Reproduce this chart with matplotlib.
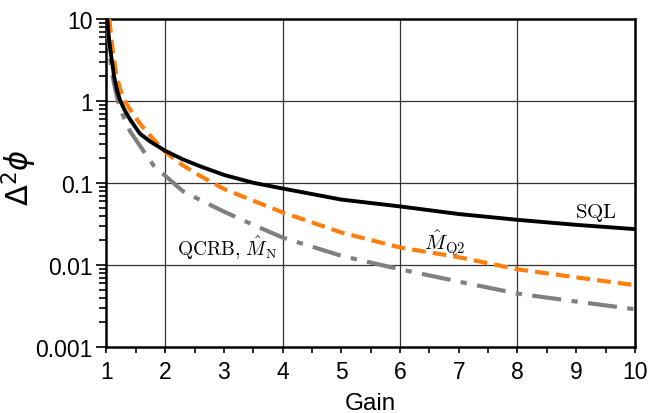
import matplotlib
matplotlib.use("Agg")
import matplotlib.pyplot as plt
from matplotlib.ticker import FixedLocator, LogLocator, NullFormatter

# values (gain, phase sensitivity)
sql_gain = [1.015, 1.03, 1.06, 1.09, 1.13, 1.18, 1.23, 1.3, 1.4, 1.57, 1.75, 2.0,
            2.3, 2.6, 3.0, 3.5, 4.0, 5.0, 6.0, 7.0, 8.0, 9.0, 10.0]
sql_val = [10.0, 7.0, 4.5, 3.2, 2.0, 1.35, 1.03, 0.8, 0.6, 0.4, 0.32, 0.248,
           0.195, 0.16, 0.126, 0.101, 0.086, 0.063, 0.052, 0.042, 0.0357, 0.031, 0.0275]

mq2_gain = [1.05, 1.08, 1.12, 1.17, 1.24, 1.31, 1.46, 1.6, 1.8, 2.0, 2.3, 2.6,
            3.0, 3.5, 4.0, 5.0, 6.0, 7.0, 8.0, 9.0, 10.0]
mq2_val = [10.0, 6.0, 3.5, 2.05, 1.35, 1.0, 0.68, 0.5, 0.344, 0.24, 0.165, 0.122,
           0.085, 0.061, 0.044, 0.025, 0.0164, 0.0125, 0.0089, 0.0071, 0.0057]

qcrb_gain = [1.012, 1.03, 1.06, 1.1, 1.14, 1.2, 1.26, 1.4, 1.57, 1.8, 2.0, 2.3,
             2.6, 3.0, 3.5, 4.0, 5.0, 6.0, 7.0, 8.0, 9.0, 10.0]
qcrb_val = [10.0, 6.5, 3.5, 2.1, 1.5, 0.97, 0.73, 0.43, 0.285, 0.165, 0.123, 0.08,
            0.062, 0.045, 0.031, 0.0217, 0.013, 0.0089, 0.0063, 0.0045, 0.0036, 0.0029]

x_ticks = [1, 2, 3, 4, 5, 6, 7, 8, 9, 10]
y_ticks = [0.001, 0.01, 0.1, 1, 10]
y_ticklabels = ["0.001", "0.01", "0.1", "1", "10"]
x_grid = [2, 4, 6, 8]

plt.rcParams['font.family'] = ['Liberation Sans', 'DejaVu Sans']
plt.rcParams['mathtext.fontset'] = 'cm'

fig = plt.figure(figsize=(6.5, 4.14), dpi=100)
ax = fig.add_axes([0.1638, 0.159, 0.813, 0.7925])

# grid only at even gains and inner decades
for xg in x_grid:
    ax.axvline(xg, color='#333333', lw=0.9, zorder=1)
for yg in y_ticks[1:-1]:
    ax.axhline(yg, color='#333333', lw=0.9, zorder=1)

ax.plot(qcrb_gain, qcrb_val, color='#808080', lw=3.0, dashes=(7, 2.5, 1.5, 2.5), zorder=3)
ax.plot(mq2_gain, mq2_val, color='#ff7f0e', lw=3.0, dashes=(3.3, 1.7), zorder=4)
ax.plot(sql_gain, sql_val, color='black', lw=2.8, zorder=5)

ax.set_yscale('log')
ax.set_xlim(1, 10)
ax.set_ylim(0.001, 10)

ax.set_xticks(x_ticks)
ax.set_xticklabels([str(t) for t in x_ticks])
ax.xaxis.set_minor_locator(FixedLocator([t + 0.5 for t in x_ticks[:-1]]))
ax.set_yticks(y_ticks)
ax.set_yticklabels(y_ticklabels)
ax.yaxis.set_minor_locator(LogLocator(base=10, subs=range(2, 10)))
ax.yaxis.set_minor_formatter(NullFormatter())

ax.tick_params(axis='x', which='both', direction='out', length=4.5, width=1.2,
               labelsize=16.5, pad=5)
ax.tick_params(axis='y', which='major', direction='out', length=7, width=1.2,
               labelsize=16.5, pad=3)
ax.tick_params(axis='y', which='minor', direction='out', length=5, width=1.2)

for s in ax.spines.values():
    s.set_linewidth(1.8)

ax.set_xlabel('Gain', fontsize=17.5, labelpad=6)
ax.set_ylabel(r'$\Delta^2\phi$', fontsize=22, math_fontfamily='dejavusans')
ax.yaxis.set_label_coords(-0.128, 0.52)

ax.text(9.34, 0.044, r'$\mathrm{SQL}$', fontsize=15, ha='center', va='center')
ax.text(6.76, 0.019, r'$\hat{M}_{\mathrm{Q2}}$', fontsize=15, ha='center', va='center')
ax.text(3.05, 0.0166, r'$\mathrm{QCRB},\, \hat{M}_{\mathrm{N}}$', fontsize=14,
        ha='center', va='center')

fig.savefig('out.png', dpi=100)
